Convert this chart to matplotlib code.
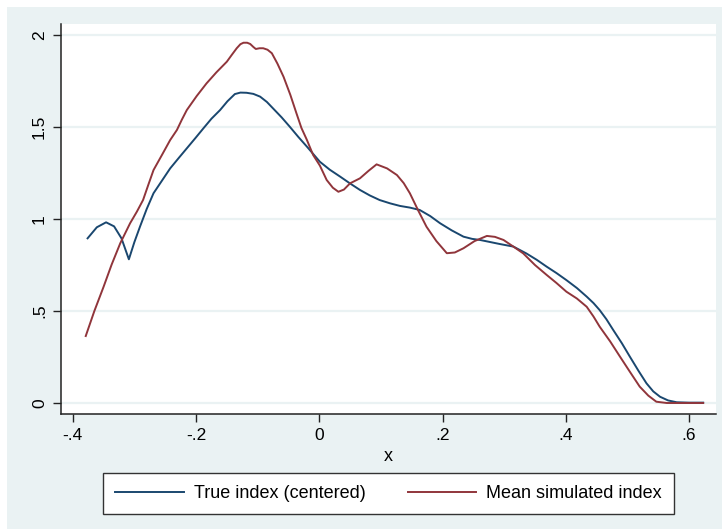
"""Index comparison: true (centered) vs mean simulated index."""

import matplotlib

matplotlib.use("Agg")
import matplotlib.pyplot as plt  # noqa: E402
from matplotlib.patches import Rectangle  # noqa: E402


# True index (centered)
true_x = [-0.376, -0.361, -0.346, -0.333, -0.321, -0.309, -0.300, -0.291, -0.280,
          -0.269, -0.255, -0.242, -0.228, -0.215, -0.201, -0.188, -0.175, -0.161,
          -0.149, -0.137, -0.128, -0.118, -0.107, -0.096, -0.085, -0.075, -0.061,
          -0.048, -0.034, -0.020, 0.001, 0.017, 0.034, 0.050, 0.066, 0.082, 0.098,
          0.115, 0.131, 0.147, 0.163, 0.180, 0.196, 0.215, 0.234, 0.248, 0.261,
          0.277, 0.293, 0.315, 0.336, 0.353, 0.369, 0.385, 0.401, 0.418, 0.434,
          0.445, 0.455, 0.466, 0.477, 0.491, 0.504, 0.518, 0.531, 0.542, 0.553,
          0.566, 0.580, 0.600, 0.623]
true_y = [0.895, 0.955, 0.982, 0.960, 0.895, 0.781, 0.875, 0.958, 1.055,
          1.140, 1.210, 1.275, 1.332, 1.384, 1.440, 1.493, 1.545, 1.592,
          1.640, 1.679, 1.687, 1.686, 1.680, 1.665, 1.636, 1.601, 1.552,
          1.502, 1.446, 1.393, 1.311, 1.268, 1.230, 1.193, 1.158, 1.128, 1.103,
          1.085, 1.071, 1.062, 1.049, 1.016, 0.977, 0.938, 0.904, 0.892, 0.886,
          0.875, 0.864, 0.850, 0.813, 0.778, 0.741, 0.706, 0.668, 0.625, 0.578,
          0.543, 0.505, 0.455, 0.397, 0.325, 0.252, 0.175, 0.107, 0.063, 0.034,
          0.014, 0.004, 0.002, 0.002]

# Mean simulated index
sim_x = [-0.379, -0.365, -0.350, -0.337, -0.323, -0.307, -0.296, -0.286, -0.277,
         -0.269, -0.255, -0.242, -0.231, -0.223, -0.215, -0.199, -0.183, -0.167,
         -0.150, -0.142, -0.134, -0.128, -0.123, -0.117, -0.112, -0.107, -0.103,
         -0.097, -0.091, -0.084, -0.077, -0.068, -0.058, -0.047, -0.037, -0.029,
         -0.020, -0.010, 0.001, 0.012, 0.022, 0.031, 0.040, 0.050, 0.066, 0.080,
         0.093, 0.110, 0.126, 0.137, 0.147, 0.160, 0.174, 0.190, 0.207, 0.220,
         0.234, 0.252, 0.272, 0.285, 0.299, 0.315, 0.331, 0.350, 0.369, 0.385,
         0.401, 0.418, 0.434, 0.445, 0.455, 0.472, 0.488, 0.504, 0.520, 0.534,
         0.547, 0.564, 0.590, 0.623]
sim_y = [0.364, 0.500, 0.632, 0.752, 0.868, 0.977, 1.040, 1.103, 1.190,
         1.266, 1.350, 1.429, 1.484, 1.540, 1.592, 1.668, 1.737, 1.797,
         1.855, 1.892, 1.928, 1.950, 1.958, 1.958, 1.951, 1.935, 1.924,
         1.928, 1.928, 1.920, 1.901, 1.845, 1.773, 1.675, 1.574, 1.495,
         1.429, 1.348, 1.290, 1.212, 1.170, 1.148, 1.160, 1.194, 1.221, 1.262,
         1.297, 1.275, 1.239, 1.195, 1.140, 1.050, 0.958, 0.880, 0.814, 0.818,
         0.841, 0.880, 0.908, 0.903, 0.886, 0.850, 0.813, 0.750, 0.696, 0.652,
         0.605, 0.568, 0.523, 0.470, 0.415, 0.335, 0.252, 0.170, 0.089, 0.040,
         0.007, 0.0, 0.0, 0.0]

x_ticks = [-0.4, -0.2, 0.0, 0.2, 0.4, 0.6]
x_tick_labels = ["-.4", "-.2", "0", ".2", ".4", ".6"]
y_ticks = [0.0, 0.5, 1.0, 1.5, 2.0]
y_tick_labels = ["0", ".5", "1", "1.5", "2"]

NAVY = "#1a476f"
MAROON = "#90353b"
REGION = "#eaf2f3"

plt.rcParams["font.family"] = ["Liberation Sans", "DejaVu Sans"]

W, H = 722, 529
fig = plt.figure(figsize=(W / 100, H / 100), dpi=100, facecolor="white")
# graph region band (leaves a thin white margin top and left)
fig.patches.append(Rectangle((7 / W, 0), 1 - 7 / W, 1 - 7 / H, transform=fig.transFigure,
                             facecolor=REGION, edgecolor="none", zorder=-10))

ax = fig.add_axes([61 / W, 1 - 414 / H, (716 - 61) / W, (414 - 24) / H])
ax.set_zorder(1)
ax.set_facecolor("white")

ax.plot(true_x, true_y, color=NAVY, linewidth=1.4, label="True index (centered)")
ax.plot(sim_x, sim_y, color=MAROON, linewidth=1.4, label="Mean simulated index")

x_lo = -0.4 - (72.8 - 61) / 616.3
x_hi = 0.6 + (716 - 689) / 616.3
ax.set_xlim(x_lo, x_hi)
ax.set_ylim(-11 / 184, (403 - 24) / 184)

ax.set_xticks(x_ticks)
ax.set_xticklabels(x_tick_labels)
ax.set_yticks(y_ticks)
ax.set_yticklabels(y_tick_labels, rotation=90, va="center")
ax.tick_params(axis="both", direction="out", length=6, width=1, color="#222222",
               labelsize=12.5, labelcolor="black", pad=4)
ax.grid(axis="y", color=REGION, linewidth=1.6)
ax.set_axisbelow(True)

for side in ("top", "right"):
    ax.spines[side].set_visible(False)
for side in ("left", "bottom"):
    ax.spines[side].set_color("#222222")
    ax.spines[side].set_linewidth(1.1)

ax.set_xlabel("x", fontsize=13, labelpad=4)

leg = fig.legend(loc="center", bbox_to_anchor=(388.5 / W, 1 - 493.5 / H), ncol=2,
                 fontsize=13, frameon=True, fancybox=False, framealpha=1.0,
                 handlelength=3.8, columnspacing=2.35, handletextpad=0.55,
                 borderpad=0.68, borderaxespad=0)
leg.set_zorder(2)
leg.get_frame().set_edgecolor("#333333")
leg.get_frame().set_linewidth(1.0)
leg.get_frame().set_facecolor("white")

fig.savefig("out.png", dpi=100, facecolor="white")
